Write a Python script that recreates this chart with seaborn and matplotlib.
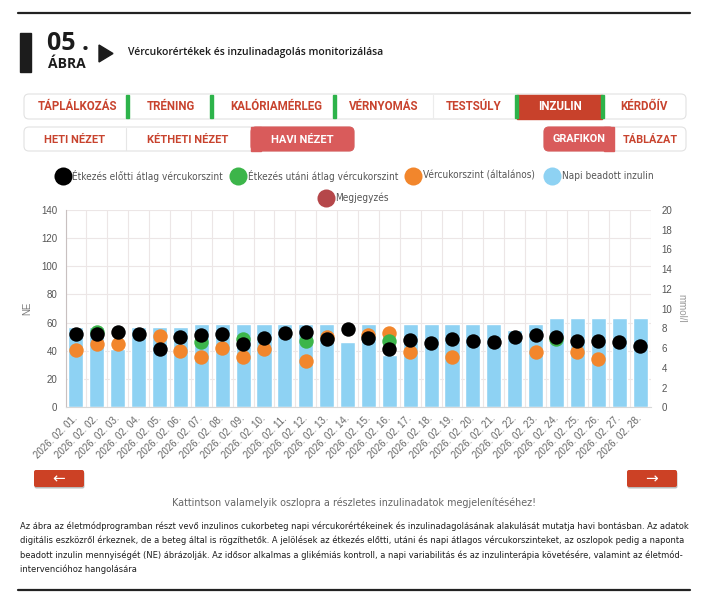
import numpy as np
import pandas as pd
import matplotlib
matplotlib.use('Agg')
import matplotlib.pyplot as plt
import seaborn as sns
from matplotlib import font_manager
from matplotlib.patches import FancyBboxPatch, Rectangle, Polygon

nan = np.nan

# napi adatok, 2026. február
days = [f"2026. 02. {d:02d}." for d in range(1, 29)]
insulin_ne = [57, 57, 41, 57, 57, 57, 59, 59, 59, 59, 59, 59, 59, 46,
              59, 37, 59, 59, 59, 59, 59, 55, 59, 63, 63, 63, 63, 63]
before_meal = [7.4, 7.4, 7.6, 7.4, 5.9, 7.1, 7.3, 7.4, 6.4, 7.0, 7.5, 7.6, 6.9, 7.9,
               7.0, 5.9, 6.8, 6.5, 6.9, 6.7, 6.6, 7.1, 7.3, 7.1, 6.7, 6.7, 6.6, 6.2]
after_meal = [nan, 7.6, nan, nan, nan, nan, 6.6, nan, 6.9, nan, nan, 6.7, nan, nan,
              nan, 6.7, nan, nan, nan, nan, nan, nan, nan, 6.9, nan, nan, nan, nan]
general = [5.8, 6.4, 6.4, nan, 7.25, 5.7, 5.1, 6.0, 5.1, 5.9, nan, 4.65, 7.1, nan,
           7.35, 7.5, 5.6, nan, 5.1, nan, nan, nan, 5.55, nan, 5.6, 4.85, nan, nan]

main_tabs = ['TÁPLÁLKOZÁS', 'TRÉNING', 'KALÓRIAMÉRLEG', 'VÉRNYOMÁS', 'TESTSÚLY', 'INZULIN', 'KÉRDŐÍV']
view_tabs = ['HETI NÉZET', 'KÉTHETI NÉZET', 'HAVI NÉZET']
mode_tabs = ['GRAFIKON', 'TÁBLÁZAT']
legend_labels = ['Étkezés előtti átlag vércukorszint', 'Étkezés utáni átlag vércukorszint',
                 'Vércukorszint (általános)', 'Napi beadott inzulin', 'Megjegyzés']
caption_lines = [
    'Az ábra az életmódprogramban részt vevő inzulinos cukorbeteg napi vércukorértékeinek és inzulinadagolásának alakulását mutatja havi bontásban. Az adatok',
    'digitális eszközről érkeznek, de a beteg által is rögzíthetők. A jelölések az étkezés előtti, utáni és napi átlagos vércukorszinteket, az oszlopok pedig a naponta',
    'beadott inzulin mennyiségét (NE) ábrázolják. Az idősor alkalmas a glikémiás kontroll, a napi variabilitás és az inzulinterápia követésére, valamint az életmód-',
    'intervencióhoz hangolására',
]

BLUE = '#8ed2f3'
BLACK = '#000000'
GREEN = '#3cb54a'
ORANGE = '#f2862c'
NOTE = '#b5474a'
RED = '#c8432e'
ACTIVE = '#d95b5b'

# look for a narrow face, otherwise plain Liberation Sans
NARROW, NARROW_STRETCH = 'Liberation Sans', 'normal'
fonts = font_manager.fontManager.ttflist
if any(f.name == 'Liberation Sans Narrow' for f in fonts):
    NARROW = 'Liberation Sans Narrow'
else:
    for fam in ['Liberation Sans', 'DejaVu Sans', 'Noto Sans', 'Roboto', 'Open Sans']:
        if any(f.name == fam and f.stretch in ('condensed', 'semi-condensed') for f in fonts):
            NARROW, NARROW_STRETCH = fam, 'condensed'
            break

sns.set_theme(style='white')
plt.rcParams['font.family'] = ['Liberation Sans', 'DejaVu Sans']

W, H = 711, 600
fig = plt.figure(figsize=(W / 100, H / 100), dpi=100)

# overlay in pixel coordinates for the page / UI elements
ov = fig.add_axes([0, 0, 1, 1], zorder=0)
ov.set_xlim(0, W)
ov.set_ylim(H, 0)
ov.axis('off')


def rbox(x0, y0, x1, y1, fc, ec='none', r=4, lw=0.8, z=1):
    ov.add_patch(FancyBboxPatch((x0, y0), x1 - x0, y1 - y0,
                                boxstyle=f'round,pad=0,rounding_size={r}',
                                fc=fc, ec=ec, lw=lw, zorder=z))


def fit_text(t, target_px):
    renderer = fig.canvas.get_renderer()
    w = t.get_window_extent(renderer).width
    t.set_fontsize(t.get_fontsize() * target_px / w)


# page rules
ov.plot([18, 690], [13, 13], color='#222222', lw=1.6)
ov.plot([18, 690], [590, 590], color='#222222', lw=1.6)

# figure header
ov.add_patch(Rectangle((20, 33), 11, 39, color='#1c1c1c'))
ov.add_patch(Polygon([(99, 45), (99, 62), (113, 53.5)], color='#1c1c1c'))
ov.text(47, 44, '05 .', fontsize=18, fontweight='bold', family='Open Sans',
        color='#1c1c1c', va='center', ha='left')
ov.text(47.5, 64.5, 'ÁBRA', fontsize=10, fontweight='bold', family='Open Sans',
        color='#1c1c1c', va='center', ha='left')
title = ov.text(128, 52, 'Vércukorértékek és inzulinadagolás monitorizálása', fontsize=7,
                fontweight='semibold', family='Open Sans', color='#1c1c1c', va='center', ha='left')
fit_text(title, 255)

# main tab row
rbox(24, 94, 686, 119, 'white', '#e2e2e2', r=5)
ov.add_patch(Rectangle((517, 94.5), 85, 24, color='#c8412b', zorder=2))
for gx in [126, 210, 333, 515, 601]:
    ov.add_patch(Rectangle((gx, 95), 2.6, 23, color='#2db34a', zorder=3))
ov.plot([433, 433], [95, 118], color='#ececec', lw=0.8)
tab_x = [77, 171, 276, 384, 474, 560, 644]
for label, tx in zip(main_tabs, tab_x):
    ov.text(tx, 107, label, fontsize=8.3, fontweight='bold', family='Roboto',
            color='white' if label == 'INZULIN' else RED, ha='center', va='center', zorder=4)

# view selector row
rbox(24, 127, 354, 151, 'white', '#e2e2e2', r=5)
rbox(251, 127, 354, 151, ACTIVE, ACTIVE, r=5, z=2)
ov.add_patch(Rectangle((251, 127), 10, 24, color=ACTIVE, zorder=2))
ov.plot([126, 126], [128, 150], color='#e6e6e6', lw=0.8)
for label, tx in zip(view_tabs, [75, 188, 302]):
    ov.text(tx, 139.5, label, fontsize=8, fontweight='bold', family='Roboto',
            color='white' if label == 'HAVI NÉZET' else RED, ha='center', va='center', zorder=4)

rbox(544, 127, 686, 151, 'white', '#e2e2e2', r=5)
rbox(544, 127, 614, 151, ACTIVE, ACTIVE, r=5, z=2)
ov.add_patch(Rectangle((604, 127), 10, 24, color=ACTIVE, zorder=2))
for label, tx in zip(mode_tabs, [579, 650]):
    ov.text(tx, 139.5, label, fontsize=7.8, fontweight='bold', family='Roboto',
            color='white' if label == 'GRAFIKON' else RED, ha='center', va='center', zorder=4)

# legend (drawn by hand, two centred rows)
leg_pos = [(62.5, 176), (238, 176), (413, 176), (552, 176), (325.5, 198)]
leg_cols = [BLACK, GREEN, ORANGE, BLUE, NOTE]
for (lx, ly), col, label in zip(leg_pos, leg_cols, legend_labels):
    ov.plot([lx], [ly], marker='o', markersize=13, color=col, mec='none')
    lt = ov.text(lx + 10, ly, label, fontsize=8, family=NARROW, fontstretch=NARROW_STRETCH,
                 color='#555555', ha='left', va='center')
    if label == legend_labels[0]:
        fit_text(lt, 149)
        leg_size = lt.get_fontsize()
    else:
        lt.set_fontsize(leg_size)

# chart
x0, x1, ytop, ybot = 65.5, 650.5, 209.8, 407.3
ax = fig.add_axes([x0 / W, 1 - ybot / H, (x1 - x0) / W, (ybot - ytop) / H], zorder=1)
df = pd.DataFrame({'day': days, 'insulin': insulin_ne})
sns.barplot(data=df, x='day', y='insulin', color=BLUE, saturation=1, width=0.72, ax=ax)
ax.set_xlim(-0.5, len(days) - 0.5)
ax.set_ylim(0, 140)
ax.set_yticks(np.arange(0, 141, 20))
ax.set_axisbelow(True)
ax.grid(axis='y', color='#ece6e6', lw=0.8)
ax.set_xticks(np.arange(-0.5, len(days), 1), minor=True)
ax.grid(axis='x', which='minor', color='#ece6e6', lw=0.8)
ax.grid(axis='x', which='major', visible=False)
ax.set_xticks(range(len(days)))
ax.set_xticklabels(days, rotation=45, ha='right', va='center', rotation_mode='anchor',
                   fontsize=7, color='#666666')
ax.tick_params(axis='x', which='major', length=0, pad=7)
ax.tick_params(axis='x', which='minor', length=4, color='#dddddd', width=0.8)
ax.tick_params(axis='y', length=0, pad=6, labelsize=7, labelcolor='#555555')
ax.set_xlabel('')
ax.set_ylabel('NE', fontsize=7, color='#777777', labelpad=6)
for side in ['top', 'right']:
    ax.spines[side].set_visible(False)
ax.spines['left'].set_color('#c8c0c0')
ax.spines['bottom'].set_color('#d8d8d8')
ax.spines['left'].set_linewidth(0.8)
ax.spines['bottom'].set_linewidth(0.8)

ax2 = ax.twinx()
pos = np.arange(len(days))
for series, col in [(general, ORANGE), (after_meal, GREEN), (before_meal, BLACK)]:
    sns.scatterplot(x=pos, y=series, color=col, s=108, linewidth=0, ax=ax2, zorder=3)
ax2.set_ylim(0, 20)
ax2.set_yticks(np.arange(0, 21, 2))
ax2.tick_params(axis='y', length=0, pad=8, labelsize=7, labelcolor='#555555')
ax2.set_ylabel('mmol/l', rotation=270, fontsize=7, color='#999999', labelpad=10)
for side in ax2.spines:
    ax2.spines[side].set_visible(False)
ax2.grid(False)

# navigation buttons
for bx, arrow in [(34, '←'), (627, '→')]:
    rbox(bx + 0.5, 471.5, bx + 50.5, 488.5, '#bbbbbb', r=2, z=1)
    rbox(bx, 470, bx + 50, 487, '#cc4125', r=2, z=2)
    ov.text(bx + 25, 478.5, arrow, fontsize=11, family='DejaVu Sans', color='white',
            ha='center', va='center', zorder=3)

hint = ov.text(354, 503, 'Kattintson valamelyik oszlopra a részletes inzulinadatok megjelenítéséhez!',
               fontsize=8, family=NARROW, fontstretch=NARROW_STRETCH, color='#666666',
               ha='center', va='center')
fit_text(hint, 363)

# caption, font size fitted so the longest line stays inside the text block
cap_y = [526, 540.5, 555, 569.5]
cap = [ov.text(20, cy, line, fontsize=8, family=NARROW, fontstretch=NARROW_STRETCH,
               color='#1e1e1e', ha='left', va='center')
       for line, cy in zip(caption_lines, cap_y)]
renderer = fig.canvas.get_renderer()
widest = max(t.get_window_extent(renderer).width for t in cap)
for t in cap:
    t.set_fontsize(8 * 664 / widest)

fig.savefig('out.png', dpi=100, facecolor='white')
